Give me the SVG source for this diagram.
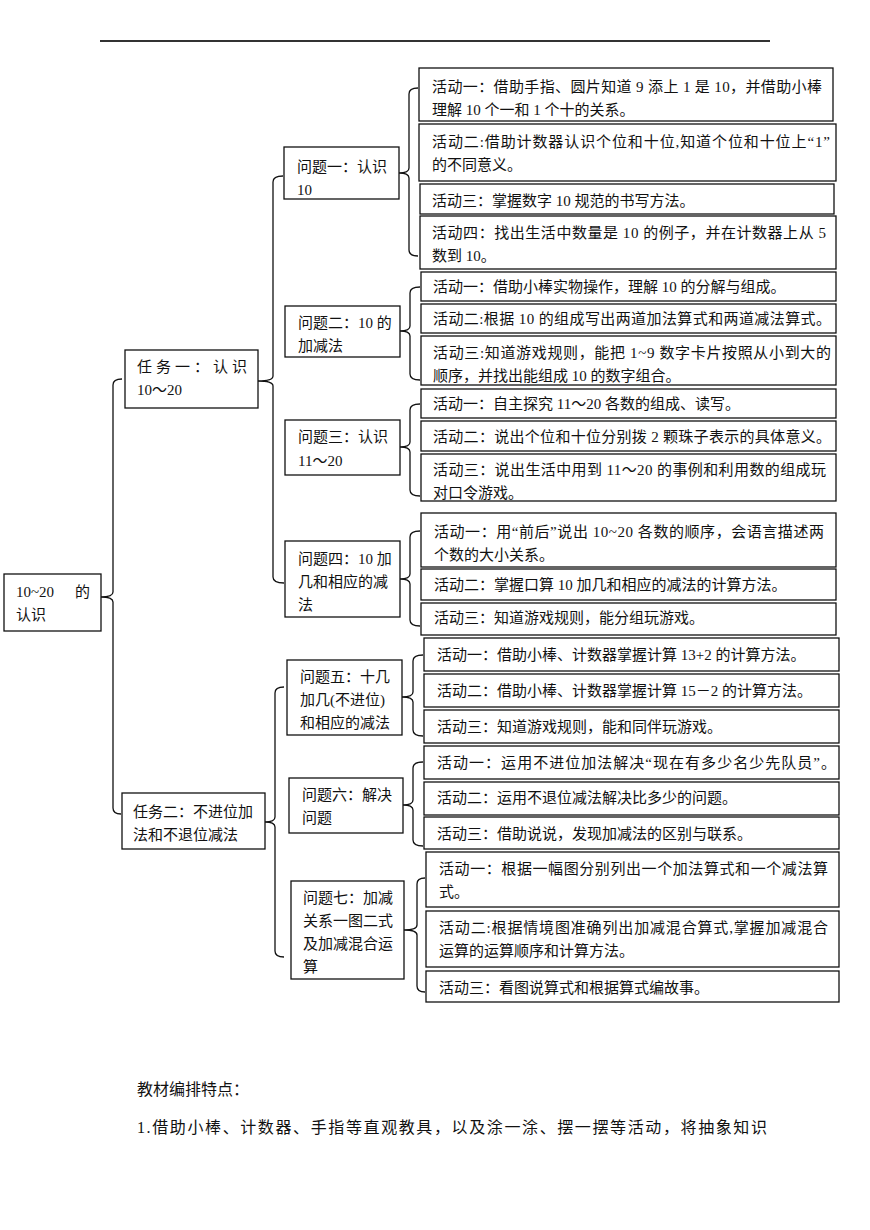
<svg xmlns="http://www.w3.org/2000/svg" width="870" height="1230" viewBox="0 0 870 1230">
<style>
.box{fill:#fff;stroke:#111;stroke-width:1.3}
.t{font-family:"Liberation Serif","Noto Sans CJK SC",serif;font-size:15px;fill:#111}
.br{fill:none;stroke:#111;stroke-width:1.3}
</style>
<rect width="870" height="1230" fill="#fff"/>
<line x1="100" y1="41" x2="770" y2="41" stroke="#333" stroke-width="2"/>
<g id="connectors">
<path class="br" d="M122,379 Q113,379 113,385 L113,592 Q113,597 101,597 Q113,597 113,602 L113,808 Q113,814 121,814"/>
<path class="br" d="M283,176 Q273,176 273,182 L273,376 Q273,381 258,381 Q273,381 273,386 L273,577 Q273,583 284,583"/>
<path class="br" d="M284,687 Q275,687 275,693 L275,817 Q275,822 265,822 Q275,822 275,827 L275,951 Q275,957 284,957"/>
<path class="br" d="M418,88 Q409,88 409,94 L409,168 Q409,173 399,173 Q409,173 409,178 L409,250 Q409,256 418,256"/>
<path class="br" d="M420,287 Q410,287 410,293 L410,326 Q410,331 400,331 Q410,331 410,336 L410,374 Q410,380 420,380"/>
<path class="br" d="M420,404 Q410,404 410,410 L410,442 Q410,447 400,447 Q410,447 410,452 L410,490 Q410,496 420,496"/>
<path class="br" d="M420,531 Q410,531 410,537 L410,574 Q410,579 400,579 Q410,579 410,584 L410,620 Q410,626 420,626"/>
<path class="br" d="M423,655 Q413,655 413,661 L413,692 Q413,697 402,697 Q413,697 413,702 L413,730 Q413,736 423,736"/>
<path class="br" d="M423,762 Q413,762 413,768 L413,800 Q413,805 403,805 Q413,805 413,810 L413,840 Q413,846 423,846"/>
<path class="br" d="M425,878 Q417,878 417,884 L417,925 Q417,930 404,930 Q417,930 417,935 L417,986 Q417,992 425,992"/>
</g>
<g id="root">
<rect class="box" x="4" y="574" width="97" height="57"/>
<text class="t" x="16" y="597">10~20<tspan x="75">的</tspan></text>
<text class="t" x="16" y="620">认识</text>
</g>
<g id="task1">
<rect class="box" x="125" y="350" width="133" height="58"/>
<text class="t" x="137" y="372" textLength="110" lengthAdjust="spacing">任务一：认识</text>
<text class="t" x="137" y="395">10～20</text>
</g>
<g id="task2">
<rect class="box" x="122" y="793" width="143" height="56"/>
<text class="t" x="133" y="817">任务二：不进位加</text>
<text class="t" x="133" y="840">法和不退位减法</text>
</g>
<g id="p1">
<rect class="box" x="284" y="147" width="115" height="52"/>
<text class="t" x="297" y="172">问题一：认识</text>
<text class="t" x="297" y="195">10</text>
</g>
<g id="p2">
<rect class="box" x="285" y="306" width="115" height="51"/>
<text class="t" x="298" y="328">问题二：10 的</text>
<text class="t" x="298" y="351">加减法</text>
</g>
<g id="p3">
<rect class="box" x="285" y="420" width="115" height="55"/>
<text class="t" x="298" y="442">问题三：认识</text>
<text class="t" x="298" y="466">11～20</text>
</g>
<g id="p4">
<rect class="box" x="285" y="541" width="115" height="76"/>
<text class="t" x="298" y="564">问题四：10 加</text>
<text class="t" x="298" y="587">几和相应的减</text>
<text class="t" x="298" y="610">法</text>
</g>
<g id="p5">
<rect class="box" x="287" y="660" width="115" height="75"/>
<text class="t" x="300" y="682">问题五：十几</text>
<text class="t" x="300" y="705">加几(不进位)</text>
<text class="t" x="300" y="728">和相应的减法</text>
</g>
<g id="p6">
<rect class="box" x="289" y="778" width="114" height="55"/>
<text class="t" x="302" y="800">问题六：解决</text>
<text class="t" x="302" y="823">问题</text>
</g>
<g id="p7">
<rect class="box" x="291" y="881" width="113" height="98"/>
<text class="t" x="303" y="903">问题七：加减</text>
<text class="t" x="303" y="926">关系一图二式</text>
<text class="t" x="303" y="949">及加减混合运</text>
<text class="t" x="303" y="972">算</text>
</g>
<g id="p1a1">
<rect class="box" x="419" y="68" width="414" height="53"/>
<text class="t" x="432" y="92" textLength="390" lengthAdjust="spacing">活动一：借助手指、圆片知道 9 添上 1 是 10，并借助小棒</text>
<text class="t" x="432" y="115">理解 10 个一和 1 个十的关系。</text>
</g>
<g id="p1a2">
<rect class="box" x="419" y="124" width="417" height="57"/>
<text class="t" x="432" y="147" textLength="398" lengthAdjust="spacing">活动二:借助计数器认识个位和十位,知道个位和十位上“1”</text>
<text class="t" x="432" y="170">的不同意义。</text>
</g>
<g id="p1a3">
<rect class="box" x="420" y="184" width="414" height="30"/>
<text class="t" x="432" y="206">活动三：掌握数字 10 规范的书写方法。</text>
</g>
<g id="p1a4">
<rect class="box" x="420" y="216" width="416" height="53"/>
<text class="t" x="432" y="238" textLength="394" lengthAdjust="spacing">活动四：找出生活中数量是 10 的例子，并在计数器上从 5</text>
<text class="t" x="432" y="261">数到 10。</text>
</g>
<g id="p2a1">
<rect class="box" x="421" y="272" width="415" height="29"/>
<text class="t" x="433" y="292">活动一：借助小棒实物操作，理解 10 的分解与组成。</text>
</g>
<g id="p2a2">
<rect class="box" x="421" y="304" width="415" height="29"/>
<text class="t" x="433" y="324" textLength="398" lengthAdjust="spacing">活动二:根据 10 的组成写出两道加法算式和两道减法算式。</text>
</g>
<g id="p2a3">
<rect class="box" x="421" y="336" width="415" height="49"/>
<text class="t" x="433" y="358" textLength="398" lengthAdjust="spacing">活动三:知道游戏规则，能把 1~9 数字卡片按照从小到大的</text>
<text class="t" x="433" y="381">顺序，并找出能组成 10 的数字组合。</text>
</g>
<g id="p3a1">
<rect class="box" x="421" y="389" width="415" height="29"/>
<text class="t" x="433" y="409">活动一：自主探究 11～20 各数的组成、读写。</text>
</g>
<g id="p3a2">
<rect class="box" x="421" y="421" width="415" height="30"/>
<text class="t" x="433" y="442" textLength="398" lengthAdjust="spacing">活动二：说出个位和十位分别拨 2 颗珠子表示的具体意义。</text>
</g>
<g id="p3a3">
<rect class="box" x="421" y="454" width="415" height="47"/>
<text class="t" x="433" y="475" textLength="393" lengthAdjust="spacing">活动三：说出生活中用到 11～20 的事例和利用数的组成玩</text>
<text class="t" x="433" y="498">对口令游戏。</text>
</g>
<g id="p4a1">
<rect class="box" x="421" y="513" width="415" height="54"/>
<text class="t" x="434" y="537" textLength="390" lengthAdjust="spacing">活动一：用“前后”说出 10~20 各数的顺序，会语言描述两</text>
<text class="t" x="434" y="560">个数的大小关系。</text>
</g>
<g id="p4a2">
<rect class="box" x="421" y="569" width="415" height="31"/>
<text class="t" x="434" y="590">活动二：掌握口算 10  加几和相应的减法的计算方法。</text>
</g>
<g id="p4a3">
<rect class="box" x="421" y="603" width="415" height="32"/>
<text class="t" x="434" y="623">活动三：知道游戏规则，能分组玩游戏。</text>
</g>
<g id="p5a1">
<rect class="box" x="424" y="638" width="415" height="33"/>
<text class="t" x="437" y="660">活动一：借助小棒、计数器掌握计算 13+2 的计算方法。</text>
</g>
<g id="p5a2">
<rect class="box" x="424" y="674" width="415" height="33"/>
<text class="t" x="437" y="696">活动二：借助小棒、计数器掌握计算 15－2 的计算方法。</text>
</g>
<g id="p5a3">
<rect class="box" x="424" y="710" width="415" height="33"/>
<text class="t" x="437" y="732">活动三：知道游戏规则，能和同伴玩游戏。</text>
</g>
<g id="p6a1">
<rect class="box" x="424" y="746" width="415" height="33"/>
<text class="t" x="437" y="768" textLength="399" lengthAdjust="spacing">活动一：运用不进位加法解决“现在有多少名少先队员”。</text>
</g>
<g id="p6a2">
<rect class="box" x="424" y="782" width="415" height="33"/>
<text class="t" x="437" y="803">活动二：运用不退位减法解决比多少的问题。</text>
</g>
<g id="p6a3">
<rect class="box" x="424" y="817" width="415" height="32"/>
<text class="t" x="437" y="839">活动三：借助说说，发现加减法的区别与联系。</text>
</g>
<g id="p7a1">
<rect class="box" x="426" y="852" width="413" height="55"/>
<text class="t" x="439" y="874" textLength="389" lengthAdjust="spacing">活动一：根据一幅图分别列出一个加法算式和一个减法算</text>
<text class="t" x="439" y="897">式。</text>
</g>
<g id="p7a2">
<rect class="box" x="426" y="911" width="413" height="56"/>
<text class="t" x="439" y="933" textLength="389" lengthAdjust="spacing">活动二:根据情境图准确列出加减混合算式,掌握加减混合</text>
<text class="t" x="439" y="956">运算的运算顺序和计算方法。</text>
</g>
<g id="p7a3">
<rect class="box" x="426" y="971" width="413" height="31"/>
<text class="t" x="439" y="993">活动三：看图说算式和根据算式编故事。</text>
</g>
<text class="t" x="137" y="1095" style="font-size:16px">教材编排特点：</text>
<text class="t" x="137" y="1133" style="font-size:16px" textLength="630" lengthAdjust="spacing">1.借助小棒、计数器、手指等直观教具，以及涂一涂、摆一摆等活动，将抽象知识</text>
</svg>
